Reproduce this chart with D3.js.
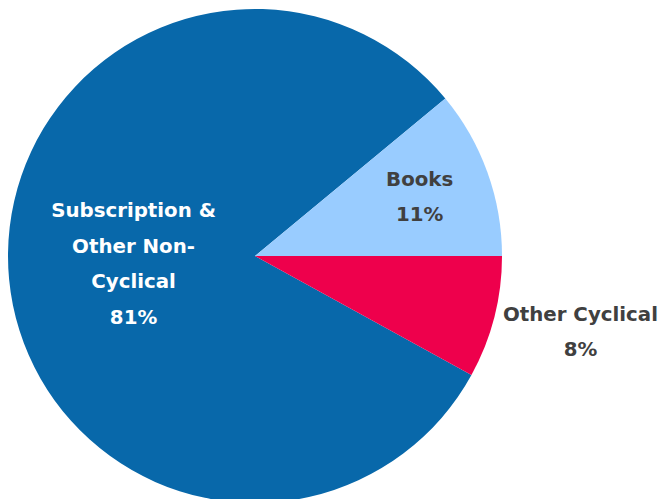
<!DOCTYPE html>
<html lang="en">
<head>
  <meta charset="UTF-8">
  <title>Revenue mix</title>
  <script src="https://d3js.org/d3.v7.min.js"></script>
  <style>
    html, body { margin: 0; padding: 0; background: #fff; }
    svg { display: block; }
  </style>
</head>
<body>
  <svg width="663" height="499"></svg>
  <script>
    const categories = [`Subscription & Other Non-Cyclical`, `Books`, `Other Cyclical`];
    const shares = [81, 11, 8];
    const labelLines = [
      [`Subscription &`, `Other Non-`, `Cyclical`, `81%`],
      [`Books`, `11%`],
      [`Other Cyclical`, `8%`],
    ];
    const colors = [`#0868aa`, `#99ccff`, `#ee004c`];

    const cx = 255;
    const cy = 256;
    const radius = 247;
    // label distance from centre and vertical nudge, per slice
    const labelRadius = [122, 175, 336];
    const labelNudge = [-4, 0, -8];
    const lineHeight = 35.7;

    const data = categories.map((name, i) => ({ name, value: shares[i], lines: labelLines[i], i }));

    const start = Math.PI / 2 + 0.08 * 2 * Math.PI;
    const pie = d3.pie()
      .sort(null)
      .value(d => d.value)
      .startAngle(start)
      .endAngle(start + 2 * Math.PI);

    const arc = d3.arc().innerRadius(0).outerRadius(radius);

    const svg = d3.select(`svg`);
    const g = svg.append(`g`).attr(`transform`, `translate(${cx}, ${cy})`);

    const arcs = pie(data);

    g.selectAll(`path`)
      .data(arcs)
      .enter()
      .append(`path`)
      .attr(`d`, arc)
      .attr(`fill`, d => colors[d.data.i]);

    const labels = g.selectAll(`text`)
      .data(arcs)
      .enter()
      .append(`text`)
      .attr(`transform`, d => {
        const k = labelRadius[d.data.i];
        const [x, y] = d3.arc().innerRadius(k).outerRadius(k).centroid(d);
        return `translate(${x}, ${y + labelNudge[d.data.i]})`;
      })
      .attr(`text-anchor`, `middle`)
      .attr(`font-family`, `DejaVu Sans`)
      .attr(`font-weight`, `bold`)
      .attr(`font-size`, 19.8)
      .attr(`fill`, d => d.data.i === 0 ? `#ffffff` : `#404040`);

    labels.each(function(d) {
      const n = d.data.lines.length;
      d3.select(this).selectAll(`tspan`)
        .data(d.data.lines)
        .enter()
        .append(`tspan`)
        .attr(`x`, 0)
        .attr(`y`, (t, j) => (j - (n - 1) / 2) * lineHeight)
        .attr(`dy`, `0.35em`)
        .text(t => t);
    });
  </script>
</body>
</html>
